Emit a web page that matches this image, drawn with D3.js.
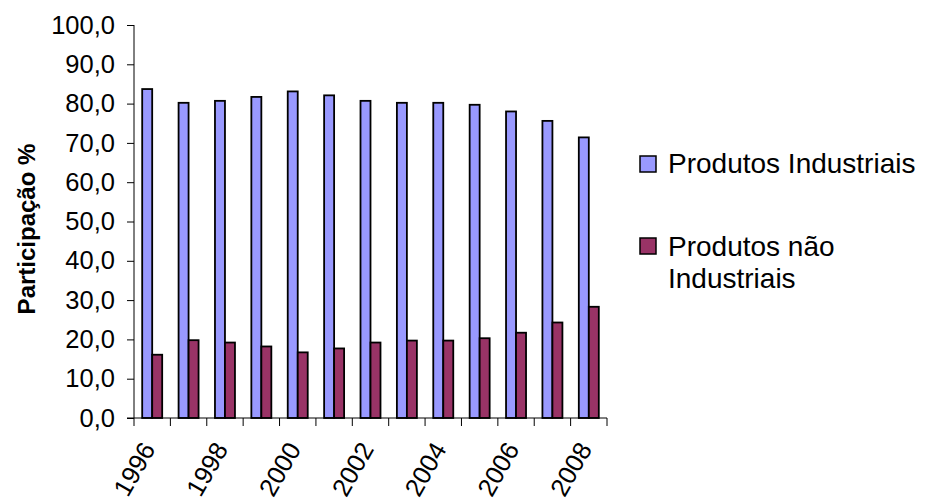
<!DOCTYPE html>
<html>
<head>
  <style>
    body { margin: 0; background: #fff; }
    svg text { font-family: "Liberation Sans", Arial, sans-serif; fill: #000; }
  </style>
</head>
<body>
  <script src="https://d3js.org/d3.v7.min.js"></script>
  <script>
    const years = [1996, 1997, 1998, 1999, 2000, 2001, 2002, 2003, 2004, 2005, 2006, 2007, 2008];
    const industriais = [83.7, 80.2, 80.7, 81.7, 83.1, 82.1, 80.7, 80.2, 80.2, 79.7, 78.0, 75.6, 71.4];
    const naoIndustriais = [16.1, 19.8, 19.2, 18.2, 16.7, 17.7, 19.2, 19.7, 19.7, 20.3, 21.7, 24.3, 28.3];
    const seriesNames = ['Produtos Industriais', 'Produtos não Industriais'];
    const yTicks = [0, 10, 20, 30, 40, 50, 60, 70, 80, 90, 100];
    const yTitle = 'Participação %';

    const width = 925;
    const height = 500;
    const colors = ['#9999ff', '#993366'];

    const svg = d3.select('body')
      .append('svg')
      .attr('width', width)
      .attr('height', height);

    // scales
    const x0 = d3.scaleBand()
      .domain(years)
      .range([134, 607]);

    const x1 = d3.scaleBand()
      .domain([0, 1])
      .range([0, x0.bandwidth()])
      .paddingOuter(0.82);

    const y = d3.scaleLinear()
      .domain([0, 100])
      .range([418, 25]);

    const fmt = v => d3.format('.1f')(v).replace('.', ',');

    // y axis
    const yAxis = svg.append('g')
      .attr('transform', 'translate(134,0)')
      .call(d3.axisLeft(y).tickValues(yTicks).tickFormat(fmt).tickSize(7).tickPadding(12));
    yAxis.select('.domain').attr('d', `M0,${y(100)}V${y(0)}`).attr('stroke', '#000');
    yAxis.selectAll('.tick line').attr('stroke', '#000');
    yAxis.selectAll('text').style('font-size', '25.5px');

    // bars
    const rows = years.map((yr, i) => ({ year: yr, values: [industriais[i], naoIndustriais[i]] }));

    const groups = svg.selectAll('.grp')
      .data(rows)
      .enter()
      .append('g')
      .attr('class', 'grp')
      .attr('transform', d => `translate(${x0(d.year)},0)`);

    groups.selectAll('rect')
      .data(d => d.values.map((v, k) => ({ k, v })))
      .enter()
      .append('rect')
      .attr('x', d => x1(d.k))
      .attr('y', d => y(d.v))
      .attr('width', x1.bandwidth())
      .attr('height', d => y(0) - y(d.v))
      .attr('fill', d => colors[d.k])
      .attr('stroke', '#000')
      .attr('stroke-width', 1.8);

    // x axis: line + ticks at category boundaries
    const xg = svg.append('g').attr('transform', `translate(0,${y(0)})`);
    xg.append('line')
      .attr('x1', 127).attr('x2', x0.range()[1])
      .attr('stroke', '#000');
    const bounds = years.map(yr => x0(yr)).concat([x0.range()[1]]);
    xg.selectAll('.bt')
      .data(bounds)
      .enter()
      .append('line')
      .attr('class', 'bt')
      .attr('x1', d => d).attr('x2', d => d)
      .attr('y1', 0).attr('y2', 8)
      .attr('stroke', '#000');

    // x labels (every other year)
    xg.selectAll('.xl')
      .data(years.filter((yr, i) => i % 2 === 0))
      .enter()
      .append('text')
      .attr('class', 'xl')
      .attr('transform', d => `translate(${x0(d) + x0.bandwidth() / 2 + 4},${31}) rotate(-60)`)
      .attr('text-anchor', 'end')
      .style('font-size', '25.5px')
      .text(d => d);

    // y title
    svg.append('text')
      .attr('transform', 'translate(35,229) rotate(-90)')
      .attr('text-anchor', 'middle')
      .style('font-size', '24px')
      .style('font-weight', 'bold')
      .text(yTitle);

    // legend
    const legend = svg.append('g');
    const legendItems = [
      { lines: [seriesNames[0]], y: 156, base: [172.5], color: colors[0] },
      { lines: ['Produtos não', 'Industriais'], y: 238, base: [256, 288], color: colors[1] }
    ];
    legendItems.forEach(item => {
      legend.append('rect')
        .attr('x', 640).attr('y', item.y)
        .attr('width', 16).attr('height', 16)
        .attr('fill', item.color)
        .attr('stroke', '#000')
        .attr('stroke-width', 1.5);
      item.lines.forEach((t, j) => {
        legend.append('text')
          .attr('x', 668)
          .attr('y', item.base[j])
          .style('font-size', '28px')
          .text(t);
      });
    });
  </script>
</body>
</html>
